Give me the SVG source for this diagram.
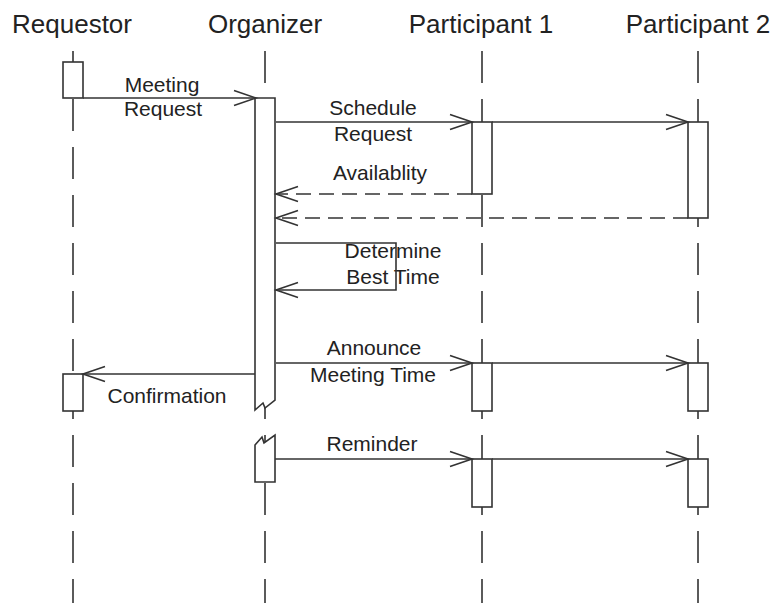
<svg xmlns="http://www.w3.org/2000/svg" width="771" height="603" viewBox="0 0 771 603">
<style>
.hdr{font-family:"Liberation Sans",Arial,sans-serif;font-size:26px;fill:#222;text-anchor:middle}
.lbl{font-family:"Liberation Sans",Arial,sans-serif;font-size:21px;fill:#222;text-anchor:middle}
.life{stroke:#333;stroke-width:1.6;stroke-dasharray:32 16;fill:none}
.act{fill:#fff;stroke:#333;stroke-width:1.6}
.msg{fill:none;stroke:#333;stroke-width:1.6}
.ret{fill:none;stroke:#333;stroke-width:1.6;stroke-dasharray:15 8}
</style>
<defs>
<marker id="arr" markerUnits="userSpaceOnUse" markerWidth="30" markerHeight="20" viewBox="-24 -10 30 20" refX="0" refY="0" orient="auto" overflow="visible">
<path d="M-22,-7.5 L0,0 L-22,7.5" fill="none" stroke="#333" stroke-width="1.6" stroke-dasharray="none"/>
</marker>
</defs>
<rect width="771" height="603" fill="#fff"/>
<g id="requestor">
<text class="hdr" x="72" y="33">Requestor</text>
<line class="life" x1="73" y1="51" x2="73" y2="603"/>
<rect class="act" x="63" y="62" width="20" height="36"/>
<rect class="act" x="63" y="374" width="20" height="37"/>
</g>
<g id="organizer">
<text class="hdr" x="265" y="33">Organizer</text>
<line class="life" x1="265" y1="51" x2="265" y2="603"/>
<path class="act" d="M255,98 L275,98 L275,400 L265,408 L263,403 L255,410 Z"/>
<path class="act" d="M255,445 L262,437 L264,443 L275,435 L275,482 L255,482 Z"/>
</g>
<g id="participant1">
<text class="hdr" x="481" y="33">Participant 1</text>
<line class="life" x1="482" y1="51" x2="482" y2="603"/>
<rect class="act" x="472" y="122" width="20" height="72"/>
<rect class="act" x="472" y="363" width="20" height="48"/>
<rect class="act" x="472" y="459" width="20" height="48"/>
</g>
<g id="participant2">
<text class="hdr" x="698" y="33">Participant 2</text>
<line class="life" x1="698" y1="51" x2="698" y2="603"/>
<rect class="act" x="688" y="122" width="20" height="96"/>
<rect class="act" x="688" y="363" width="20" height="48"/>
<rect class="act" x="688" y="459" width="20" height="48"/>
</g>
<g id="connectors">
<line class="msg" x1="83" y1="98" x2="256" y2="98" marker-end="url(#arr)"/>
<text class="lbl" x="162" y="92">Meeting</text>
<text class="lbl" x="163" y="116">Request</text>
<line class="msg" x1="276" y1="122" x2="472" y2="122" marker-end="url(#arr)"/>
<line class="msg" x1="492" y1="122" x2="688" y2="122" marker-end="url(#arr)"/>
<text class="lbl" x="373" y="115">Schedule</text>
<text class="lbl" x="373" y="141">Request</text>
<line class="ret" x1="472" y1="194" x2="276" y2="194" marker-end="url(#arr)"/>
<line class="ret" x1="688" y1="218" x2="276" y2="218" marker-end="url(#arr)"/>
<text class="lbl" x="380" y="180">Availablity</text>
<text class="lbl" x="393" y="258">Determine</text>
<text class="lbl" x="393" y="284">Best Time</text>
<polyline class="msg" points="276,243 396,243 396,290 276,290" marker-end="url(#arr)"/>
<line class="msg" x1="276" y1="363" x2="472" y2="363" marker-end="url(#arr)"/>
<line class="msg" x1="492" y1="363" x2="688" y2="363" marker-end="url(#arr)"/>
<text class="lbl" x="374" y="355">Announce</text>
<text class="lbl" x="373" y="382">Meeting Time</text>
<line class="msg" x1="255" y1="374" x2="83" y2="374" marker-end="url(#arr)"/>
<text class="lbl" x="167" y="403">Confirmation</text>
<line class="msg" x1="275" y1="459" x2="472" y2="459" marker-end="url(#arr)"/>
<line class="msg" x1="492" y1="459" x2="688" y2="459" marker-end="url(#arr)"/>
<text class="lbl" x="372" y="451">Reminder</text>
</g>
</svg>
